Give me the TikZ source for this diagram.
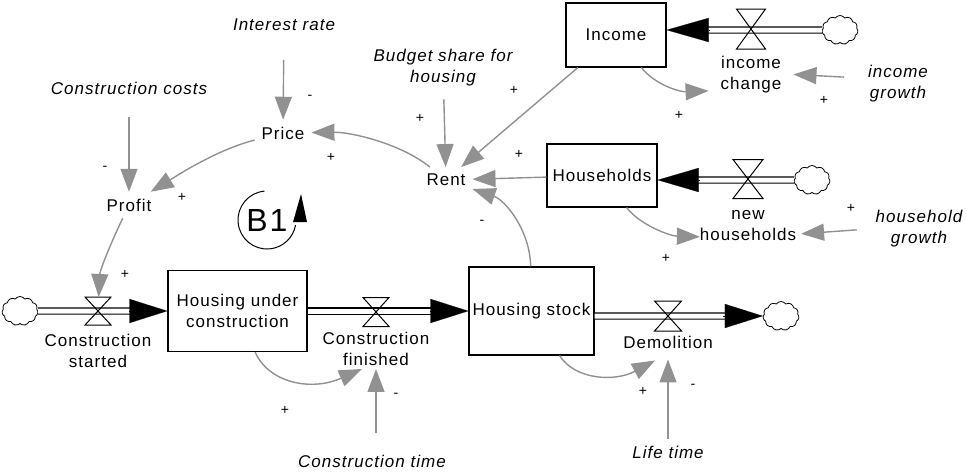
\documentclass[tikz,border=0pt]{standalone}
\usepackage{fontspec}
\setmainfont{Liberation Sans}[LetterSpace=6]
\usetikzlibrary{arrows.meta,positioning,shapes.symbols}

\definecolor{linkgray}{gray}{0.57}
\newcommand{\dfont}{\fontsize{17}{21}\selectfont}
\newcommand{\valve}[3][]{%
  \node[valvebox,#1] (#2) at (#3) {};
  \draw[line width=1pt] (#2.north west) -- (#2.north east) -- (#2.south west) -- (#2.south east) -- cycle;}

\tikzset{
  stock/.style={draw, line width=1.1pt, align=center, inner sep=0pt},
  aux/.style={align=center, inner sep=4pt, outer sep=3pt},
  const/.style={aux, font=\dfont\itshape},
  flowlbl/.style={align=center, inner sep=0pt, outer sep=0pt},
  link/.style={draw=linkgray, line width=1.4pt, -{Triangle[length=23pt,width=17pt]}},
  pipe/.style={double, double distance=5pt, line width=1.1pt},
  flowtip/.style={line width=0.1pt, -{Triangle[length=#1,width=24pt]}},
  flowtip/.default=38pt,
  valvebox/.style={minimum width=26pt, minimum height=29pt, inner sep=0pt, outer sep=0pt},
  source/.style={cloud, draw, cloud puffs=11, cloud puff arc=110, line width=0.8pt,
                 minimum width=36pt, minimum height=29pt, inner sep=0pt},
  sign/.style={font=\fontsize{14}{16}\selectfont, inner sep=0pt}
}

\begin{document}
\begin{tikzpicture}[x=1pt,y=-1pt,font=\dfont]
  \useasboundingbox (0,0) rectangle (966,472);

  % stocks
  \node[stock,minimum width=139pt,minimum height=81pt] (huc) at (237.5,311) {Housing under\\construction};
  \node[stock,minimum width=125pt,minimum height=88pt] (hs) at (531.5,311) {Housing stock};
  \node[stock,minimum width=100pt,minimum height=64pt] (inc) at (616,35) {Income};
  \node[stock,minimum width=110pt,minimum height=63pt] (hh) at (602,175.5) {Households};

  % clouds
  \node[source] (src) at (20,311) {};
  \node[source] (sink) at (781,316) {};
  \node[source] (incsrc) at (840,30) {};
  \node[source] (hhsrc) at (812,180) {};

  % flows
  \draw[pipe] (src.east) -- ([xshift=-30pt]huc.west);
  \draw[flowtip] ([xshift=-38pt]huc.west) -- (huc.west);
  \draw[pipe] (huc.east) -- ([xshift=-30pt]hs.west);
  \draw[flowtip] ([xshift=-38pt]hs.west) -- (hs.west);
  \draw[pipe] ([yshift=-5pt]hs.east) -- ([xshift=-30pt]sink.west);
  \draw[flowtip] ([xshift=-40pt]sink.west) -- (sink.west);
  \draw[pipe] (incsrc.west) -- ([xshift=34pt,yshift=5pt]inc.east);
  \draw[flowtip=42pt] ([xshift=42pt,yshift=5pt]inc.east) -- ([yshift=5pt]inc.east);
  \draw[pipe] (hhsrc.west) -- ([xshift=34pt,yshift=-4.5pt]hh.east);
  \draw[flowtip=41pt] ([xshift=41pt,yshift=-4.5pt]hh.east) -- ([yshift=-4.5pt]hh.east);

  % valves
  \valve[minimum height=28pt]{cs}{98,311}
  \valve{cf}{376,312}
  \valve[minimum width=27pt,minimum height=30pt]{dm}{668,316}
  \valve[minimum width=29pt,minimum height=40pt]{ic}{751,29}
  \valve[minimum width=30pt,minimum height=39pt]{nh}{748,179}

  \node[flowlbl,below=9pt of cs] (cslbl) {Construction\\started};
  \node[flowlbl,below=6pt of cf] (cflbl) {Construction\\finished};
  \node[flowlbl,below=5pt of dm] (dmlbl) {Demolition};
  \node[flowlbl,below=7pt of ic] (iclbl) {income\\change};
  \node[flowlbl,below=12pt of nh] (nhlbl) {new\\households};

  % auxiliaries and constants
  \node[aux] (price) at (283,133) {Price};
  \node[aux] (profit) at (129,205) {Profit};
  \node[aux] (rent) at (446,180) {Rent};
  \node[const] (intr) at (284,25) {Interest rate};
  \node[const] (ccost) at (129,88) {Construction costs};
  \node[const] (budget) at (443,68) {Budget share for\\housing};
  \node[const] (incgr) at (898,84) {income\\growth};
  \node[const] (hhgr) at (919,229) {household\\growth};
  \node[const] (ctime) at (372,461) {Construction time};
  \node[const] (ltime) at (668,452) {Life time};

  % links
  \draw[link,shorten <=22pt] (intr) -- (price);
  \draw[link,shorten <=16pt] (ccost) -- (profit);
  \draw[link,shorten <=6pt] (budget) -- (rent);
  \draw[link] (rent) .. controls (400,143) and (350,132) .. (price);
  \draw[link] (price) .. controls (215,150) and (170,180) .. (profit);
  \draw[link] (profit) .. controls (110,245) and (100,270) .. (cs);
  \draw[link] (inc) -- (rent);
  \draw[link] (hh) -- (rent);
  \draw[link] (hs) .. controls (530,230) and (505,200) .. (rent);
  \draw[link] (inc) .. controls (655,85) and (680,92) .. ([xshift=-12pt,yshift=2pt]iclbl.south west);
  \draw[link,shorten <=17pt] ([yshift=6pt]incgr.west) -- ([xshift=12pt]iclbl.east);
  \draw[link] (hh) .. controls (640,225) and (670,236) .. ([yshift=4pt]nhlbl.south west);
  \draw[link,shorten <=12pt] (hhgr.west) -- ([xshift=5pt,yshift=7pt]nhlbl.south east);
  \draw[link] (huc) .. controls (268,382) and (310,392) .. ([xshift=-14pt,yshift=-3pt]cflbl.south);
  \draw[link,shorten <=15pt] (ctime.north -| cflbl.south) -- ([yshift=-3pt]cflbl.south);
  \draw[link] (hs) .. controls (575,380) and (615,382) .. ([xshift=-13pt,yshift=-12pt]dmlbl.south);
  \draw[link] (ltime) -- ([yshift=-11pt]dmlbl.south);

  % polarities
  \foreach \x/\y/\s [count=\i] in {310/97/-, 105/168/-, 420/118/+, 331/157/+, 182/197/+,
      125/274/+, 514/90/+, 519/154/+, 482/222/-, 679/115/+, 824/100/+, 666/258/+,
      851/208/+, 285/410/+, 396/395/-, 643/391/+, 693/386/-}
    \node[sign] (pol\i) at (\x,\y) {\s};

  % loop marker
  \node[font=\fontsize{32}{36}\selectfont, inner sep=0pt] (loop) at (267,220) {B1};
  \draw[line width=1pt] ([shift={(95:29pt)}]loop.center) arc[start angle=95,end angle=350,radius=29pt];
  \fill (293,222) -- (307,222) -- (301,194) -- cycle;
\end{tikzpicture}
\end{document}
